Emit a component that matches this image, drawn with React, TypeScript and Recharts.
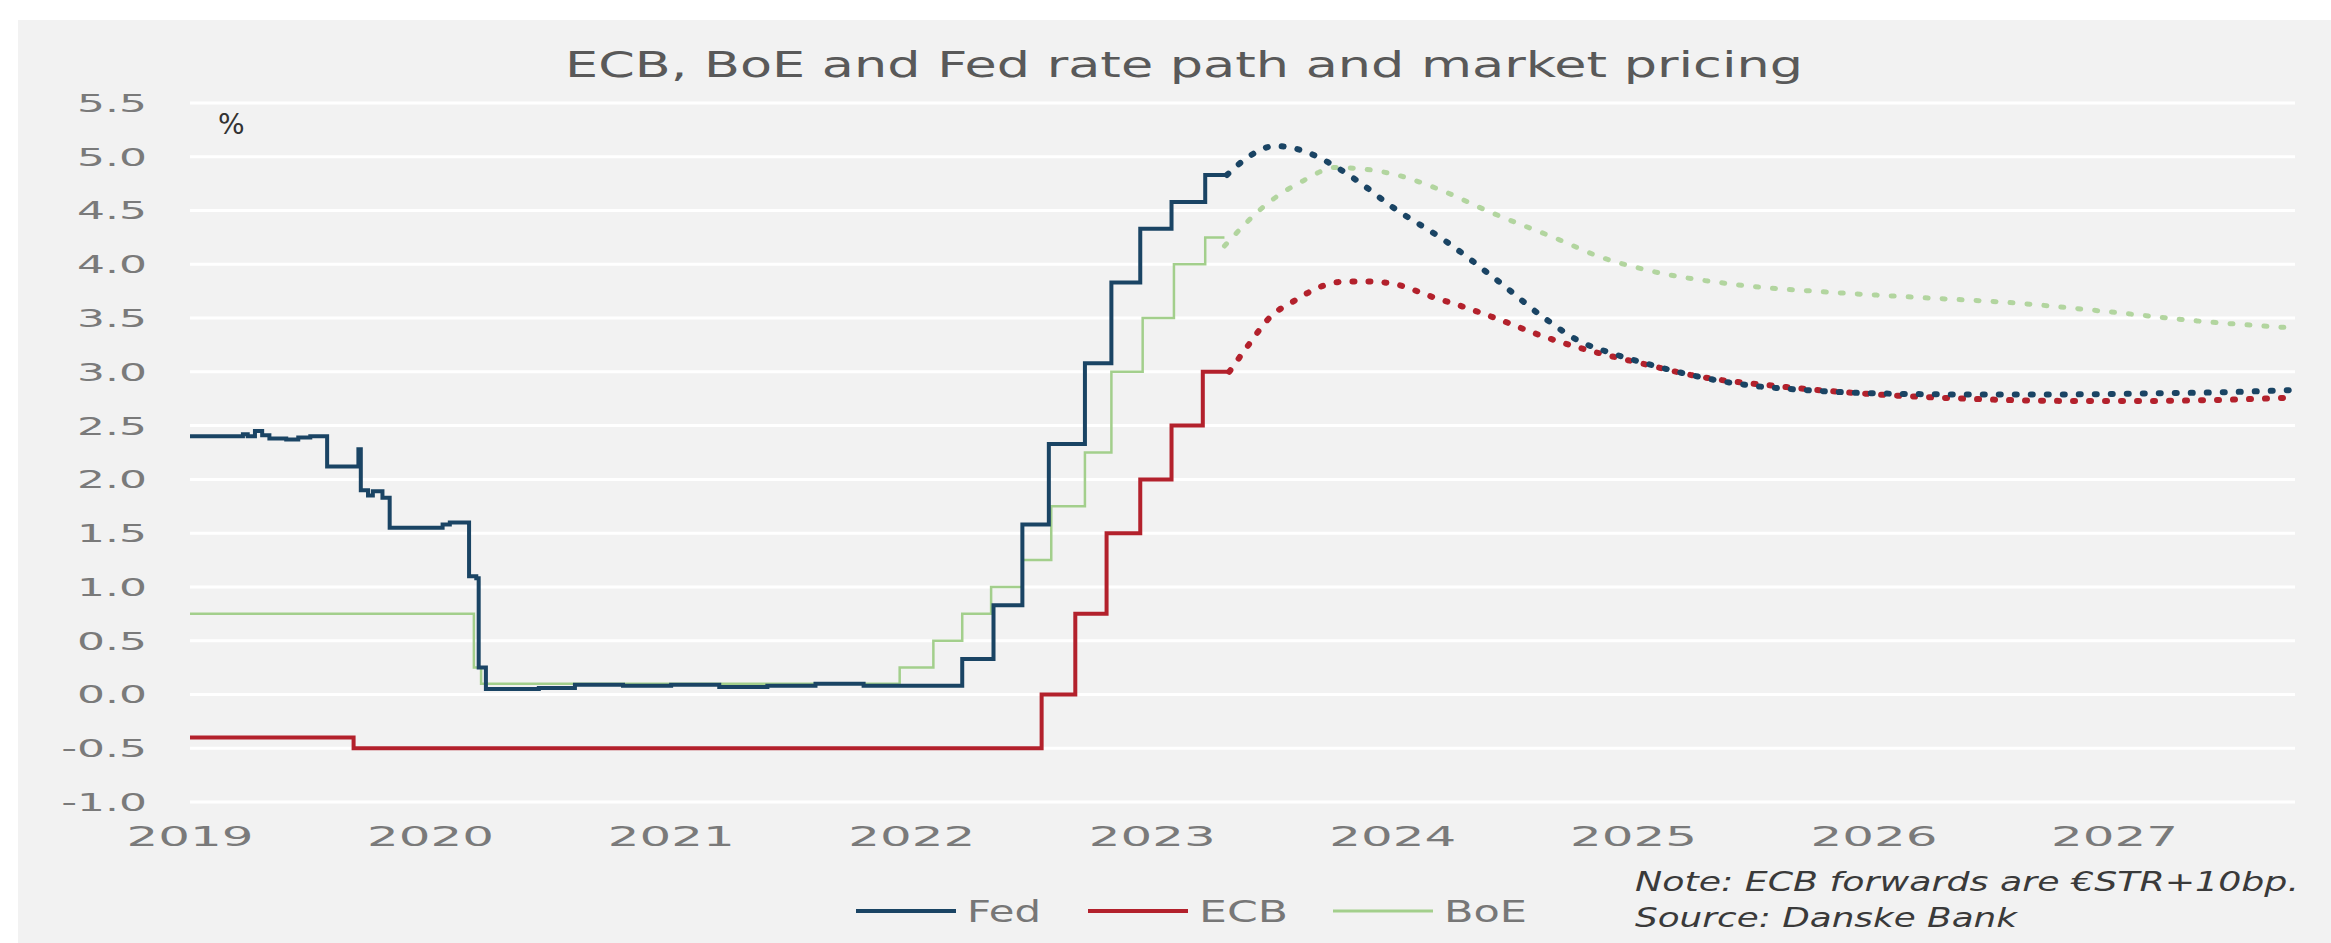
import { LineChart, Line, XAxis, YAxis, CartesianGrid } from 'recharts'

// axis ticks
const yearTicks = [2019, 2020, 2021, 2022, 2023, 2024, 2025, 2026, 2027]
const rateTicks = [-1, -0.5, 0, 0.5, 1, 1.5, 2, 2.5, 3, 3.5, 4, 4.5, 5, 5.5]

// policy rates (decimal year, %)
const fedDates = [2019.0, 2019.22, 2019.24, 2019.27, 2019.3, 2019.33, 2019.4, 2019.45, 2019.5, 2019.57, 2019.69, 2019.7, 2019.71, 2019.74, 2019.76, 2019.8, 2019.83, 2020.0, 2020.05, 2020.08, 2020.16, 2020.19, 2020.2, 2020.23, 2020.45, 2020.6, 2020.8, 2021.0, 2021.2, 2021.4, 2021.6, 2021.8, 2022.0, 2022.21, 2022.34, 2022.46, 2022.57, 2022.72, 2022.83, 2022.95, 2023.08, 2023.22, 2023.31]
const fedRates = [2.4, 2.42, 2.4, 2.45, 2.41, 2.38, 2.37, 2.39, 2.4, 2.12, 2.12, 2.28, 1.9, 1.85, 1.89, 1.83, 1.55, 1.55, 1.58, 1.6, 1.1, 1.08, 0.25, 0.05, 0.06, 0.09, 0.08, 0.09, 0.07, 0.08, 0.1, 0.08, 0.08, 0.33, 0.83, 1.58, 2.33, 3.08, 3.83, 4.33, 4.58, 4.83, 4.83]

const ecbDates = [2019.0, 2019.68, 2022.54, 2022.68, 2022.81, 2022.95, 2023.08, 2023.21, 2023.32]
const ecbRates = [-0.4, -0.5, 0.0, 0.75, 1.5, 2.0, 2.5, 3.0, 3.0]

const boeDates = [2019.0, 2020.18, 2020.21, 2021.95, 2022.09, 2022.21, 2022.33, 2022.46, 2022.58, 2022.72, 2022.83, 2022.96, 2023.09, 2023.22, 2023.3]
const boeRates = [0.75, 0.25, 0.1, 0.25, 0.5, 0.75, 1.0, 1.25, 1.75, 2.25, 3.0, 3.5, 4.0, 4.25, 4.25]

// market pricing (forwards)
const fedFwdDates = [2023.31, 2023.4, 2023.51, 2023.62, 2023.73, 2023.85, 2024.0, 2024.21, 2024.44, 2024.63, 2024.78, 2024.9, 2025.05, 2025.24, 2025.43, 2025.72, 2026.01, 2026.39, 2026.78, 2027.16, 2027.45, 2027.73]
const fedFwdRates = [4.83, 5.0, 5.1, 5.06, 4.95, 4.78, 4.53, 4.23, 3.84, 3.5, 3.28, 3.18, 3.08, 2.97, 2.89, 2.83, 2.8, 2.79, 2.79, 2.8, 2.81, 2.83]

const ecbFwdDates = [2023.32, 2023.4, 2023.49, 2023.59, 2023.71, 2023.8, 2023.9, 2024.02, 2024.16, 2024.3, 2024.45, 2024.6, 2024.75, 2024.9, 2025.05, 2025.24, 2025.63, 2026.01, 2026.39, 2026.78, 2027.16, 2027.45, 2027.73]
const ecbFwdRates = [3.0, 3.25, 3.51, 3.66, 3.8, 3.84, 3.84, 3.81, 3.7, 3.6, 3.48, 3.35, 3.24, 3.15, 3.07, 2.97, 2.86, 2.79, 2.75, 2.73, 2.73, 2.74, 2.76]

const boeFwdDates = [2023.3, 2023.47, 2023.63, 2023.76, 2023.86, 2024.0, 2024.2, 2024.4, 2024.69, 2024.86, 2025.05, 2025.43, 2025.82, 2026.2, 2026.59, 2026.97, 2027.36, 2027.73]
const boeFwdRates = [4.17, 4.55, 4.78, 4.9, 4.89, 4.84, 4.69, 4.49, 4.23, 4.07, 3.95, 3.81, 3.74, 3.69, 3.64, 3.56, 3.47, 3.41]

const zip = (ts: number[], vs: number[]) => ts.map((t, i) => ({ t, v: vs[i] }))

const FONT = '"DejaVu Sans", Verdana, sans-serif'
const FED = '#1a4464'
const ECB = '#b3212c'
const BOE = '#a3cf8c'

function RateTick({ x, y, payload }: any) {
  return (
    <g transform={`translate(${x},${y})`}>
      <text transform="scale(1.76,1)" textAnchor="end" dy="0.355em" fontSize={25} fontFamily={FONT} fill="#7a7a7a">
        {Number(payload.value).toFixed(1)}
      </text>
    </g>
  )
}

function YearTick({ x, y, payload }: any) {
  return (
    <g transform={`translate(${x},${y})`}>
      <text transform="scale(1.92,1)" textAnchor="middle" dy="0.71em" fontSize={26} fontFamily={FONT} fill="#7a7a7a">
        {payload.value}
      </text>
    </g>
  )
}

function LegendItem({ x, color, width, label, textLength }: any) {
  return (
    <g>
      <line x1={x} x2={x + 100} y1={911} y2={911} stroke={color} strokeWidth={width} />
      <text x={x + 111} y={911} dy="0.36em" fontSize={30} fontFamily={FONT} fill="#777" textLength={textLength} lengthAdjust="spacingAndGlyphs">
        {label}
      </text>
    </g>
  )
}

export default function App() {
  return (
    <div style={{ position: 'absolute', left: 0, top: 0, width: 2331, height: 943, background: '#fff', overflow: 'hidden' }}>
      <div style={{ position: 'absolute', left: 18, top: 20, right: 0, bottom: 0, background: '#f2f2f2' }} />
      <div style={{ position: 'absolute', left: 0, top: 0 }}>
        <LineChart width={2331} height={943} margin={{ top: 103, right: 36, left: 40, bottom: 101 }}>
          <CartesianGrid vertical={false} stroke="#ffffff" strokeWidth={3} />
          <XAxis
            type="number"
            dataKey="t"
            domain={[2019, 2027.75]}
            ticks={yearTicks}
            allowDataOverflow
            axisLine={false}
            tickLine={false}
            tickSize={0}
            tickMargin={26}
            height={40}
            tick={<YearTick />}
            interval={0}
          />
          <YAxis
            type="number"
            domain={[-1, 5.5]}
            ticks={rateTicks}
            allowDataOverflow
            axisLine={false}
            tickLine={false}
            tickSize={0}
            tickMargin={43}
            width={150}
            tick={<RateTick />}
            interval={0}
          />
          <Line data={zip(boeDates, boeRates)} dataKey="v" type="stepAfter" stroke={BOE} strokeWidth={2.5} dot={false} isAnimationActive={false} />
          <Line data={zip(ecbDates, ecbRates)} dataKey="v" type="stepAfter" stroke={ECB} strokeWidth={4} dot={false} isAnimationActive={false} />
          <Line data={zip(fedDates, fedRates)} dataKey="v" type="stepAfter" stroke={FED} strokeWidth={4} dot={false} isAnimationActive={false} />
          <Line data={zip(boeFwdDates, boeFwdRates)} dataKey="v" type="monotone" stroke="#b2d59f" strokeWidth={5} strokeDasharray="3 14" strokeLinecap="round" dot={false} isAnimationActive={false} />
          <Line data={zip(ecbFwdDates, ecbFwdRates)} dataKey="v" type="monotone" stroke={ECB} strokeWidth={6} strokeDasharray="2 14" strokeLinecap="round" dot={false} isAnimationActive={false} />
          <Line data={zip(fedFwdDates, fedFwdRates)} dataKey="v" type="monotone" stroke={FED} strokeWidth={6} strokeDasharray="2 14" strokeLinecap="round" dot={false} isAnimationActive={false} />
        </LineChart>
      </div>
      <svg width={2331} height={943} style={{ position: 'absolute', left: 0, top: 0, pointerEvents: 'none' }}>
        <text x={565} y={64} dy="0.36em" fontSize={36} fontFamily={FONT} fill="#595959" textLength={1238} lengthAdjust="spacingAndGlyphs">
          ECB, BoE and Fed rate path and market pricing
        </text>
        <text x={218} y={124} dy="0.36em" fontSize={28} fontFamily={FONT} fill="#333">%</text>
        <LegendItem x={856} color={FED} width={4} label="Fed" textLength={74} />
        <LegendItem x={1088} color={ECB} width={4} label="ECB" textLength={89} />
        <LegendItem x={1333} color={BOE} width={3} label="BoE" textLength={83} />
        <text x={1635} y={881} dy="0.36em" fontSize={27} fontStyle="italic" fontFamily={FONT} fill="#3a3a3a" textLength={664} lengthAdjust="spacingAndGlyphs">
          Note: ECB forwards are  €STR+10bp.
        </text>
        <text x={1635} y={917} dy="0.36em" fontSize={27} fontStyle="italic" fontFamily={FONT} fill="#3a3a3a" textLength={382} lengthAdjust="spacingAndGlyphs">
          Source: Danske Bank
        </text>
      </svg>
    </div>
  )
}
